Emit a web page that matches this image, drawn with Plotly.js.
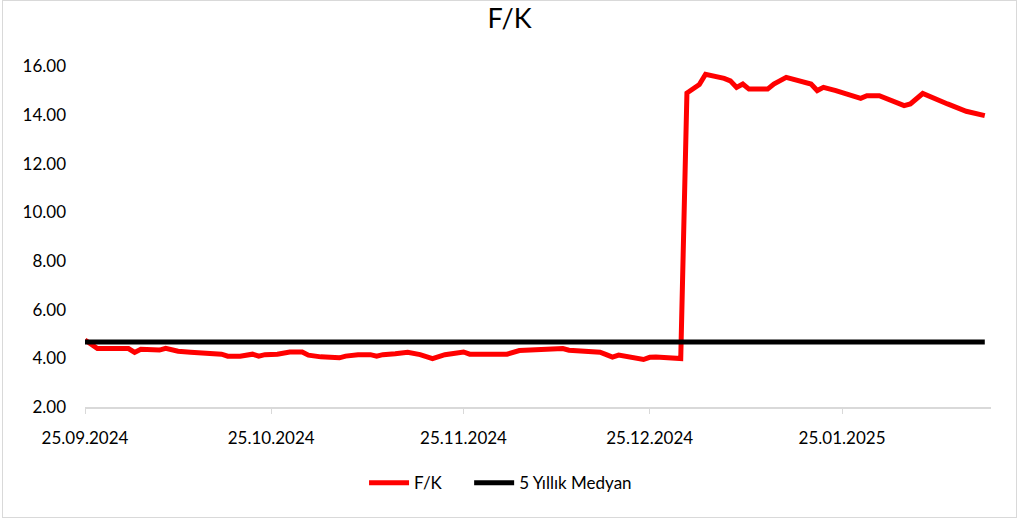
<!DOCTYPE html>
<html>
<head>
<meta charset="utf-8">
<script src="https://cdn.plot.ly/plotly-3.0.1.min.js"></script>
<style>
  html, body { margin: 0; padding: 0; background: #fff; }
  #chart { position: absolute; left: 2px; top: 0px; width: 1013px; height: 516px; border: 1px solid #d9d9d9; }
</style>
</head>
<body>
<div id="chart"></div>
<script>
// F/K series (dates and values)
const dates = [
  '2024-09-25','2024-09-27','2024-10-02','2024-10-03','2024-10-04','2024-10-07','2024-10-08',
  '2024-10-10','2024-10-12','2024-10-15','2024-10-17','2024-10-18','2024-10-20','2024-10-22',
  '2024-10-23','2024-10-24','2024-10-26','2024-10-28','2024-10-30','2024-10-31','2024-11-02',
  '2024-11-05','2024-11-06','2024-11-08','2024-11-10','2024-11-11','2024-11-12','2024-11-14',
  '2024-11-16','2024-11-18','2024-11-20','2024-11-22','2024-11-25','2024-11-26','2024-12-02',
  '2024-12-04','2024-12-07','2024-12-11','2024-12-12','2024-12-17','2024-12-18','2024-12-19',
  '2024-12-20','2024-12-22','2024-12-24','2024-12-25','2024-12-26','2024-12-30','2024-12-31',
  '2025-01-02','2025-01-03','2025-01-06','2025-01-07','2025-01-08','2025-01-09','2025-01-10',
  '2025-01-13','2025-01-14','2025-01-16','2025-01-20','2025-01-21','2025-01-22','2025-01-24',
  '2025-01-28','2025-01-29','2025-01-31','2025-02-04','2025-02-05','2025-02-07','2025-02-11',
  '2025-02-14','2025-02-17'
];
const fk = [
  4.75, 4.40, 4.40, 4.24, 4.37, 4.34, 4.41,
  4.29, 4.25, 4.19, 4.17, 4.09, 4.09, 4.17,
  4.09, 4.15, 4.17, 4.26, 4.26, 4.13, 4.06,
  4.02, 4.09, 4.15, 4.15, 4.09, 4.15, 4.19,
  4.25, 4.15, 3.99, 4.15, 4.26, 4.17, 4.17,
  4.32, 4.36, 4.40, 4.33, 4.25, 4.15, 4.05,
  4.13, 4.06, 3.95, 4.04, 4.05, 3.99, 14.90,
  15.25, 15.67, 15.50, 15.40, 15.13, 15.27, 15.06,
  15.06, 15.27, 15.54, 15.27, 15.00, 15.13, 15.00,
  14.68, 14.79, 14.79, 14.38, 14.45, 14.88, 14.45,
  14.15, 13.97
];
const medianValue = 4.67;
const seriesNames = ['F/K', '5 Yıllık Medyan'];
const chartTitle = 'F/K';

const FONT = 'Lato, "Open Sans", "DejaVu Sans", sans-serif';

const traces = [
  {
    x: dates, y: fk, type: 'scatter', mode: 'lines', name: seriesNames[0],
    line: { color: '#ff0000', width: 5 }, legend: 'legend'
  },
  {
    x: dates, y: dates.map(() => medianValue), type: 'scatter', mode: 'lines', name: seriesNames[1],
    line: { color: '#000000', width: 5 }, legend: 'legend2'
  }
];

const legendBase = {
  orientation: 'h', y: -0.17, yanchor: 'top', xanchor: 'left',
  font: { family: FONT, size: 17, color: '#000' },
  itemwidth: 40, bgcolor: 'rgba(0,0,0,0)'
};

const layout = {
  width: 1013, height: 516,
  margin: { l: 82, r: 25, t: 64, b: 110 },
  paper_bgcolor: '#ffffff', plot_bgcolor: '#ffffff',
  font: { family: FONT, size: 17, color: '#000' },
  title: { text: chartTitle, x: 0.5, xanchor: 'center', y: 0.985, yanchor: 'top',
           font: { family: FONT, size: 27, color: '#000' } },
  xaxis: {
    type: 'date',
    range: ['2024-09-25', '2025-02-18'],
    tick0: '2024-09-25', dtick: 'M1',
    tickformat: '%d.%m.%Y',
    showgrid: false, zeroline: false,
    showline: true, linecolor: '#d9d9d9', linewidth: 1.5,
    ticks: 'outside', ticklen: 5, tickcolor: '#d9d9d9',
    ticklabelstandoff: 10,
    tickfont: { family: FONT, size: 17, color: '#000' }
  },
  yaxis: {
    range: [2, 16.05], dtick: 2, tick0: 2,
    tickformat: '.2f',
    showgrid: false, zeroline: false, showline: false,
    ticks: '', ticklen: 0,
    ticklabelstandoff: 18,
    tickfont: { family: FONT, size: 17, color: '#000' }
  },
  showlegend: true,
  legend: Object.assign({}, legendBase, { x: 0.308 }),
  legend2: Object.assign({}, legendBase, { x: 0.424 })
};

Plotly.newPlot('chart', traces, layout, { displayModeBar: false, staticPlot: true });
</script>
</body>
</html>
